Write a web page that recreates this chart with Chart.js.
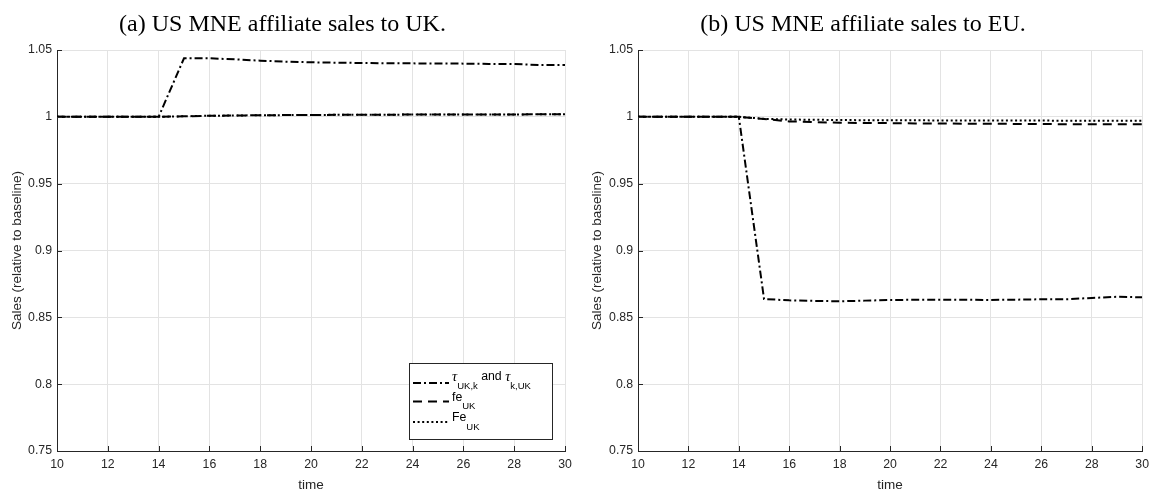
<!DOCTYPE html>
<html>
<head>
<meta charset="utf-8">
<script src="https://cdn.jsdelivr.net/npm/chart.js@4.4.1/dist/chart.umd.min.js"></script>
<style>
  html, body { margin: 0; padding: 0; background: #ffffff; }
  #wrap { position: relative; width: 1155px; height: 493px; overflow: hidden; }
  .panel { position: absolute; top: 0; height: 493px; }
  #pa { left: 0; width: 580px; }
  #pb { left: 580px; width: 575px; }
</style>
</head>
<body>
<div id="wrap">
  <div class="panel" id="pa"><canvas id="ca" width="580" height="493"></canvas></div>
  <div class="panel" id="pb"><canvas id="cb" width="575" height="493"></canvas></div>
</div>
<script>
// Periods on the horizontal axis
const time = [10, 11, 12, 13, 14, 15, 16, 17, 18, 19, 20, 21, 22, 23, 24, 25, 26, 27, 28, 29, 30];

// Axis ticks
const xTicks = [10, 12, 14, 16, 18, 20, 22, 24, 26, 28, 30];
const yTicks = [0.75, 0.8, 0.85, 0.9, 0.95, 1, 1.05];
const yTickLabels = ['0.75', '0.8', '0.85', '0.9', '0.95', '1', '1.05'];

// Series labels (text inside _{...} is set as a subscript)
const seriesLabels = ['τ_{UK,k} and τ_{k,UK}', 'fe_{UK}', 'Fe_{UK}'];

// (a) US MNE affiliate sales to UK, relative to baseline
const ukTau = [1, 1, 1, 1, 1, 1.0438, 1.0438, 1.0430, 1.0420, 1.0413, 1.0408, 1.0405, 1.0403, 1.0401, 1.0400, 1.0399, 1.0398, 1.0396, 1.0395, 1.0388, 1.0388];
const ukFe  = [1, 1, 1, 1, 1, 1.0004, 1.0008, 1.0010, 1.0012, 1.0013, 1.0014, 1.0015, 1.0016, 1.0016, 1.0017, 1.0017, 1.0018, 1.0018, 1.0018, 1.0019, 1.0019];
const ukFE  = [1, 1, 1, 1, 1, 1.0004, 1.0008, 1.0010, 1.0012, 1.0013, 1.0014, 1.0015, 1.0016, 1.0016, 1.0017, 1.0017, 1.0018, 1.0018, 1.0018, 1.0019, 1.0019];

// (b) US MNE affiliate sales to EU, relative to baseline
const euTau = [1, 1, 1, 1, 1, 0.8637, 0.8627, 0.8623, 0.8620, 0.8625, 0.8630, 0.8631, 0.8632, 0.8631, 0.8630, 0.8632, 0.8635, 0.8635, 0.8645, 0.8654, 0.8650];
const euFe  = [1, 1, 1, 1, 1, 0.9984, 0.9966, 0.9960, 0.9956, 0.9954, 0.9953, 0.9951, 0.9950, 0.9949, 0.9948, 0.9947, 0.9946, 0.9945, 0.9945, 0.9944, 0.9944];
const euFE  = [1, 1, 1, 1, 1, 0.9985, 0.9980, 0.9978, 0.9976, 0.9975, 0.9975, 0.9974, 0.9973, 0.9973, 0.9973, 0.9972, 0.9972, 0.9971, 0.9971, 0.9970, 0.9970];

const DASH_DOT = [8, 3, 2, 3];
const DASHED = [9, 6];
const DOTTED = [2, 2.6];
const dashes = [DASH_DOT, DASHED, DOTTED];

const AXIS_COLOR = '#262626';
const GRID_COLOR = '#e3e3e3';
const SANS = "'Liberation Sans', Arial, Helvetica, sans-serif";
const SERIF = "'Liberation Serif', 'Times New Roman', serif";

function points(values) {
  return time.map((t, i) => ({ x: t, y: values[i] }));
}

function makeDatasets(series) {
  return series.map((vals, k) => ({
    label: seriesLabels[k],
    data: points(vals),
    borderColor: '#000000',
    backgroundColor: '#000000',
    borderWidth: 2,
    borderDash: dashes[k],
    pointRadius: 0,
    fill: false,
    tension: 0
  }));
}

// Short tick marks pointing into the plot area
const inwardTicks = {
  id: 'inwardTicks',
  afterDatasetsDraw(chart) {
    const { ctx, chartArea: a, scales: { x, y } } = chart;
    ctx.save();
    ctx.strokeStyle = AXIS_COLOR;
    ctx.lineWidth = 1;
    ctx.setLineDash([]);
    ctx.beginPath();
    xTicks.forEach(v => {
      const px = Math.round(x.getPixelForValue(v)) + 0.5;
      ctx.moveTo(px, a.bottom);
      ctx.lineTo(px, a.bottom - 5);
    });
    yTicks.forEach(v => {
      const py = Math.round(y.getPixelForValue(v)) + 0.5;
      ctx.moveTo(a.left, py);
      ctx.lineTo(a.left + 5, py);
    });
    ctx.stroke();
    ctx.restore();
  }
};

// Draws a label where _{...} parts are subscripts; returns the end x
function drawRich(ctx, text, x, yMain, ySub) {
  const parts = text.split(/(_\{[^}]*\})/).filter(s => s.length);
  let cx = x;
  parts.forEach(p => {
    if (p.startsWith('_{')) {
      const s = p.slice(2, -1);
      ctx.font = `9.5px ${SANS}`;
      ctx.fillText(s, cx, ySub);
      cx += ctx.measureText(s).width;
    } else {
      for (const ch of p) {
        if (ch === 'τ') {
          ctx.font = `italic 14.5px ${SERIF}`;
        } else {
          ctx.font = `12.3px ${SANS}`;
        }
        ctx.fillText(ch, cx, yMain);
        cx += ctx.measureText(ch).width;
      }
    }
  });
  return cx;
}

// Boxed legend with sub-scripted labels, lower right of the plot
const mathLegend = {
  id: 'mathLegend',
  afterDraw(chart, args, opts) {
    if (!opts.show) return;
    const { ctx, chartArea: a } = chart;
    const w = 143, h = 76;
    const x0 = a.right - 156, y0 = a.bottom - 88;
    ctx.save();
    ctx.fillStyle = '#ffffff';
    ctx.fillRect(x0, y0, w, h);
    ctx.strokeStyle = AXIS_COLOR;
    ctx.lineWidth = 1;
    ctx.setLineDash([]);
    ctx.strokeRect(Math.round(x0) + 0.5, Math.round(y0) + 0.5, w, h);
    const rowY = [20, 38.5, 59];
    chart.data.datasets.forEach((ds, k) => {
      const ly = y0 + rowY[k];
      ctx.strokeStyle = ds.borderColor;
      ctx.lineWidth = ds.borderWidth;
      ctx.setLineDash(ds.borderDash);
      ctx.beginPath();
      ctx.moveTo(x0 + 4, ly);
      ctx.lineTo(x0 + 40, ly);
      ctx.stroke();
      ctx.setLineDash([]);
      ctx.fillStyle = '#000000';
      ctx.textBaseline = 'middle';
      ctx.textAlign = 'left';
      const off = k === 0 ? -2 : 0;
      drawRich(ctx, ds.label, x0 + 43, ly - 4 + off, ly + 5 + off);
    });
    ctx.restore();
  }
};

function makeChart(canvasId, titleText, series, yWidth, rightPad, showLegend) {
  return new Chart(document.getElementById(canvasId), {
    type: 'line',
    data: { datasets: makeDatasets(series) },
    options: {
      responsive: false,
      animation: false,
      layout: { padding: { left: 0, right: rightPad, top: 0, bottom: 0 } },
      plugins: {
        legend: { display: false },
        tooltip: { enabled: false },
        title: {
          display: true,
          text: titleText,
          color: '#000000',
          font: { family: SERIF, size: 24, weight: 'normal', lineHeight: 1.2 },
          padding: { top: 10, bottom: 11.2 }
        },
        mathLegend: { show: showLegend }
      },
      scales: {
        x: {
          type: 'linear',
          min: 10,
          max: 30,
          afterFit: s => { s.height = 42; },
          afterBuildTicks: s => { s.ticks = xTicks.map(v => ({ value: v })); },
          ticks: {
            color: AXIS_COLOR,
            font: { family: SANS, size: 12.3 },
            padding: 6,
            maxRotation: 0,
            autoSkip: false,
            callback: v => String(v)
          },
          grid: { color: GRID_COLOR, lineWidth: 1, drawTicks: false },
          border: { display: true, color: AXIS_COLOR, width: 1 },
          title: {
            display: true,
            text: 'time',
            color: AXIS_COLOR,
            font: { family: SANS, size: 13.5 },
            padding: { top: 0, bottom: 0 }
          }
        },
        y: {
          type: 'linear',
          min: 0.75,
          max: 1.05,
          afterFit: s => { s.width = yWidth; },
          afterBuildTicks: s => { s.ticks = yTicks.map(v => ({ value: v })); },
          ticks: {
            color: AXIS_COLOR,
            font: { family: SANS, size: 12.3 },
            padding: 5,
            autoSkip: false,
            callback: (v, i) => yTickLabels[i]
          },
          grid: { color: GRID_COLOR, lineWidth: 1, drawTicks: false },
          border: { display: true, color: AXIS_COLOR, width: 1 },
          title: {
            display: true,
            text: 'Sales (relative to baseline)',
            color: AXIS_COLOR,
            font: { family: SANS, size: 13.5 },
            padding: { top: 9, bottom: 0 }
          }
        }
      }
    },
    plugins: [inwardTicks, mathLegend]
  });
}

makeChart('ca', '(a) US MNE affiliate sales to UK.', [ukTau, ukFe, ukFE], 57, 15, true);
makeChart('cb', '(b) US MNE affiliate sales to EU.', [euTau, euFe, euFE], 58, 9, false);
</script>
</body>
</html>
